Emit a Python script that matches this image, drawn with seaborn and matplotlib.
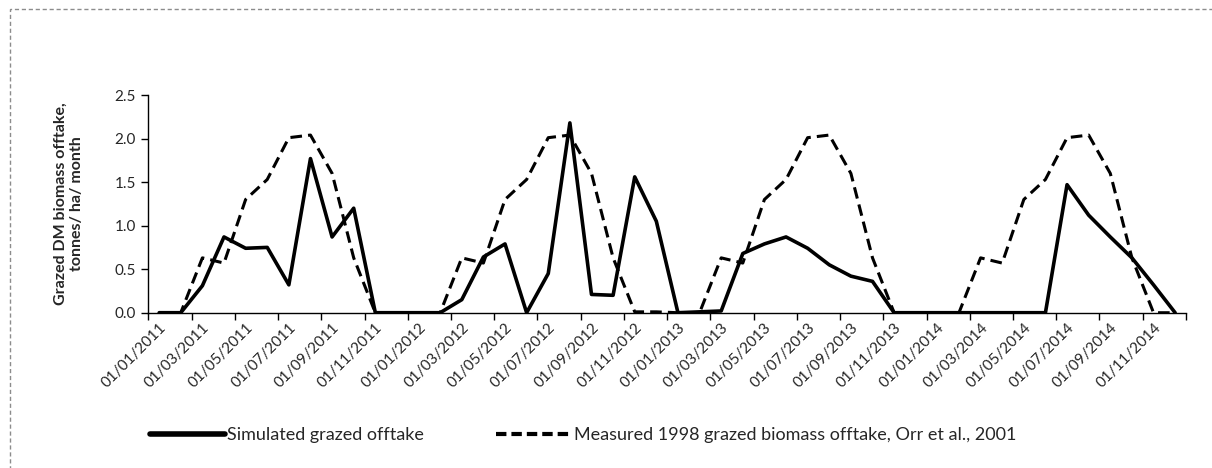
import matplotlib
matplotlib.use("Agg")
import matplotlib.pyplot as plt
from matplotlib.lines import Line2D
from matplotlib.patches import Rectangle
import numpy as np
import pandas as pd
import seaborn as sns

sns.set_theme(style="white")
plt.rcParams["font.family"] = ["Lato", "DejaVu Sans"]

# Monthly categories, Jan 2011 - Dec 2014
months = pd.date_range("2011-01-01", "2014-12-01", freq="MS")
month_labels = [d.strftime("%d/%m/%Y") for d in months]

simulated = [
    0.00, 0.00, 0.31, 0.87, 0.74, 0.75, 0.32, 1.77, 0.87, 1.20, 0.00, 0.00,
    0.00, 0.00, 0.15, 0.64, 0.79, 0.00, 0.45, 2.18, 0.21, 0.20, 1.56, 1.05,
    0.00, 0.01, 0.02, 0.68, 0.79, 0.87, 0.74, 0.55, 0.42, 0.36, 0.00, 0.00,
    0.00, 0.00, 0.00, 0.00, 0.00, 0.00, 1.47, 1.12, 0.87, 0.63, 0.32, 0.00,
]
measured = [
    0.00, 0.00, 0.63, 0.57, 1.30, 1.53, 2.01, 2.04, 1.60, 0.63, 0.00, 0.00,
    0.00, 0.00, 0.63, 0.57, 1.30, 1.53, 2.01, 2.04, 1.60, 0.63, 0.01, 0.01,
    0.00, 0.00, 0.63, 0.57, 1.30, 1.53, 2.01, 2.04, 1.60, 0.63, 0.00, 0.00,
    0.00, 0.00, 0.63, 0.57, 1.30, 1.53, 2.01, 2.04, 1.60, 0.63, 0.00, 0.00,
]

SIM_LABEL = "Simulated grazed offtake"
MEAS_LABEL = "Measured 1998 grazed biomass offtake, Orr et al., 2001"

df = pd.DataFrame({"idx": np.arange(len(months)), "sim": simulated, "meas": measured})

fig = plt.figure(figsize=(12.12, 4.68), dpi=100)
ax = fig.add_axes([0.1224, 0.3318, 0.8561, 0.4652])

sns.lineplot(data=df, x="idx", y="meas", ax=ax, color="black", lw=2.2,
             dashes=False, linestyle=(0, (3.8, 2.0)))
sns.lineplot(data=df, x="idx", y="sim", ax=ax, color="black", lw=2.6)

ax.set_xlim(-0.5, len(months) - 0.5)
ax.set_ylim(0, 2.5)
ax.set_yticks(np.arange(0, 2.51, 0.5))
ax.set_yticklabels([f"{v:.1f}" for v in np.arange(0, 2.51, 0.5)], fontsize=11)

# tick marks on category boundaries, labels under every 2nd category
ax.set_xticks(np.arange(-0.5, len(months), 2))
ax.set_xticklabels([])
ax.set_xticks(np.arange(0, len(months), 2), minor=True)
ax.set_xticklabels(month_labels[::2], minor=True, rotation=45, ha="right",
                   va="top", rotation_mode="anchor", fontsize=11)
ax.tick_params(axis="x", which="minor", length=0, pad=6)
ax.tick_params(axis="x", which="major", length=5, width=1, color="black", direction="out")
ax.tick_params(axis="y", length=5, width=1, color="black", direction="out", pad=4)
ax.xaxis.set_ticks_position("bottom")
ax.yaxis.set_ticks_position("left")

for side in ["top", "right"]:
    ax.spines[side].set_visible(False)
for side in ["left", "bottom"]:
    ax.spines[side].set_color("black")
    ax.spines[side].set_linewidth(1)

ax.set_xlabel("")
ax.set_ylabel("Grazed DM biomass offtake,\ntonnes/ ha/ month", fontsize=11.5,
              fontweight="bold", labelpad=22)

handles = [
    Line2D([], [], color="black", lw=4),
    Line2D([], [], color="black", lw=3, linestyle=(0, (2.5, 1.2))),
]
fig.legend(handles, [SIM_LABEL, MEAS_LABEL], loc="center", ncol=2,
           bbox_to_anchor=(0.481, 1 - 435 / 468), frameon=False, fontsize=13,
           handlelength=4.2, handletextpad=0.1, columnspacing=4.0)

# light dashed outline of the chart area
fig.patches.append(Rectangle((10 / 1212, -0.1), 1.2, 1.1 - 9 / 468, transform=fig.transFigure,
                             fill=False, edgecolor="#8c8c8c", lw=1, linestyle=(0, (3, 2))))

fig.savefig("out.png", dpi=100)
